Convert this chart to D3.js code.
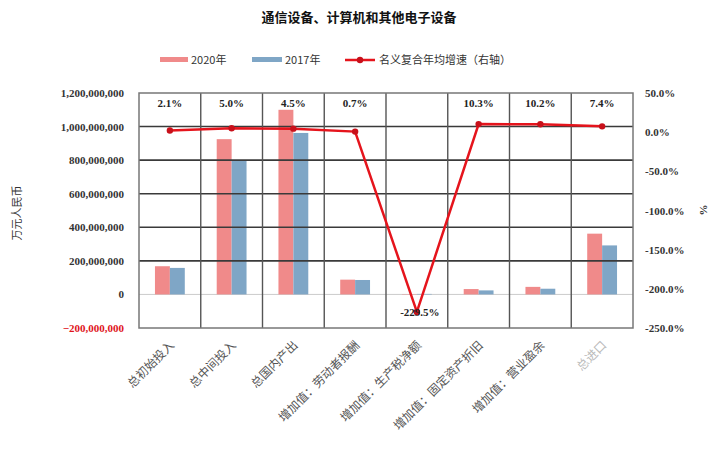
<!DOCTYPE html>
<html><head><meta charset="utf-8">
<script src="https://cdn.jsdelivr.net/npm/d3@7"></script>
<style>body{margin:0;background:#fff}svg{display:block}</style>
</head><body><svg id="c" width="719" height="449"></svg>
<script>
const categories = ["总初始投入","总中间投入","总国内产出","增加值：劳动者报酬","增加值：生产税净额","增加值：固定资产折旧","增加值：营业盈余","总进口"];
const values2020 = [168000000, 925000000, 1100000000, 88000000, -2000000, 32000000, 45000000, 362000000];
const values2017 = [158000000, 800000000, 962000000, 86000000, 3000000, 24000000, 34000000, 292000000];
const cagr = [2.1, 5.0, 4.5, 0.7, -229.5, 10.3, 10.2, 7.4];
const leftTicks = [-200000000, 0, 200000000, 400000000, 600000000, 800000000, 1000000000, 1200000000];
const rightTicks = [-250, -200, -150, -100, -50, 0, 50];
const seriesNames = ["2020年","2017年"];
const lineName = "名义复合年均增速（右轴）";
const title = "通信设备、计算机和其他电子设备";

const svg = d3.select("#c");
const L = 139, R = 633, T = 93, B = 328;
const x = d3.scaleBand().domain(categories).range([L, R]).padding(0);
const xs = d3.scaleBand().domain(seriesNames).range([0, x.bandwidth()]).paddingInner(0).paddingOuter(1.07);
const y = d3.scaleLinear().domain([-200000000, 1200000000]).range([B, T]);
const y2 = d3.scaleLinear().domain([-250, 50]).range([B, T]);
const colors = {"2020年":"#f08a8a","2017年":"#7fa6c6"};

// title
svg.append("text").attr("x", 359).attr("y", 22).attr("text-anchor","middle")
  .attr("font-family","Noto Sans CJK SC").attr("font-weight","bold").attr("font-size",13).attr("fill","#111").text(title);

// legend
const lg = svg.append("g").attr("font-family","Noto Sans CJK SC").attr("font-size",11).attr("fill","#333");
lg.append("rect").attr("x",160).attr("y",57).attr("width",28).attr("height",5).attr("fill",colors["2020年"]);
lg.append("text").attr("x",191).attr("y",64).text(seriesNames[0]);
lg.append("rect").attr("x",252).attr("y",57).attr("width",30).attr("height",5).attr("fill",colors["2017年"]);
lg.append("text").attr("x",285).attr("y",64).text(seriesNames[1]);
lg.append("line").attr("x1",345).attr("x2",375).attr("y1",60).attr("y2",60).attr("stroke","#e5141c").attr("stroke-width",2.5);
lg.append("circle").attr("cx",360).attr("cy",60).attr("r",3.2).attr("fill","#c8101a");
lg.append("text").attr("x",379).attr("y",64).text(lineName);

// zero line
svg.append("line").attr("x1",L).attr("x2",R).attr("y1",y(0)).attr("y2",y(0)).attr("stroke","#ccc").attr("stroke-width",1);

// bars
const g = svg.append("g");
categories.forEach((c,i)=>{
  [[seriesNames[0], values2020[i]],[seriesNames[1], values2017[i]]].forEach(([s,v])=>{
    g.append("rect").attr("x", x(c)+xs(s)).attr("width", xs.bandwidth())
      .attr("y", y(Math.max(0,v))).attr("height", Math.abs(y(v)-y(0))).attr("fill", colors[s]);
  });
});

// gridlines (dark) at left ticks between 200M and 1000M
const grid = svg.append("g").attr("stroke","#3a3a3a").attr("stroke-width",1.6);
leftTicks.filter(t=>t>0 && t<1200000000).forEach(t=>{
  grid.append("line").attr("x1",L).attr("x2",R).attr("y1",y(t)).attr("y2",y(t));
});
// vertical dividers
categories.slice(1).forEach(c=>{
  svg.append("line").attr("x1",x(c)).attr("x2",x(c)).attr("y1",T).attr("y2",B).attr("stroke","#555").attr("stroke-width",1.4);
});
// border
svg.append("rect").attr("x",L).attr("y",T).attr("width",R-L).attr("height",B-T).attr("fill","none").attr("stroke","#777").attr("stroke-width",1.5);

// line
const pts = categories.map((c,i)=>[x(c)+x.bandwidth()/2, y2(cagr[i])]);
svg.append("path").attr("d", d3.line()(pts)).attr("fill","none").attr("stroke","#e5141c").attr("stroke-width",2.5);
svg.selectAll("circle.pt").data(pts).enter().append("circle").attr("class","pt")
  .attr("cx",d=>d[0]).attr("cy",d=>d[1]).attr("r",3.2).attr("fill","#c8101a");

// CAGR labels
const fmt = v => v.toFixed(1) + "%";
categories.forEach((c,i)=>{
  const cx = x(c)+x.bandwidth()/2;
  const neg = cagr[i] < 0;
  svg.append("text").attr("x", cx + (neg? 3:0)).attr("y", neg ? y2(cagr[i])+4 : 107)
    .attr("text-anchor","middle").attr("font-family","Liberation Serif").attr("font-weight","bold")
    .attr("font-size",11).attr("fill","#222").text(fmt(cagr[i]));
});

// left axis
const ax = svg.append("g").attr("transform",`translate(${L-12},0)`)
  .call(d3.axisLeft(y).tickValues(leftTicks).tickSize(0).tickFormat(d3.format(",")));
ax.select(".domain").remove();
ax.selectAll("text").attr("font-family","Liberation Serif").attr("font-weight","bold").attr("font-size",11)
  .attr("fill",d=>d<0?"#e0141c":"#333");

// right axis
const ax2 = svg.append("g").attr("transform",`translate(${R+9},0)`)
  .call(d3.axisRight(y2).tickValues(rightTicks).tickSize(0).tickFormat(d=>d.toFixed(1)+"%"));
ax2.select(".domain").remove();
ax2.selectAll("text").attr("font-family","Liberation Serif").attr("font-weight","bold").attr("font-size",11).attr("fill","#333");

// axis titles
svg.append("text").attr("transform","translate(21,213) rotate(-90)").attr("text-anchor","middle")
  .attr("font-family","Noto Sans CJK SC").attr("font-size",11).attr("fill","#333").text("万元人民币");
svg.append("text").attr("transform","translate(707,210) rotate(-90)").attr("text-anchor","middle")
  .attr("font-family","Liberation Serif").attr("font-weight","bold").attr("font-size",11).attr("fill","#333").text("%");

// category labels
categories.forEach((c,i)=>{
  const cx = x(c)+x.bandwidth()/2;
  svg.append("text").attr("transform",`translate(${cx+5},${346}) rotate(-45)`).attr("text-anchor","end")
    .attr("font-family","Noto Sans CJK SC").attr("font-size",12)
    .attr("fill", i===categories.length-1 ? "#bbb" : "#555").text(c);
});
</script></body></html>
